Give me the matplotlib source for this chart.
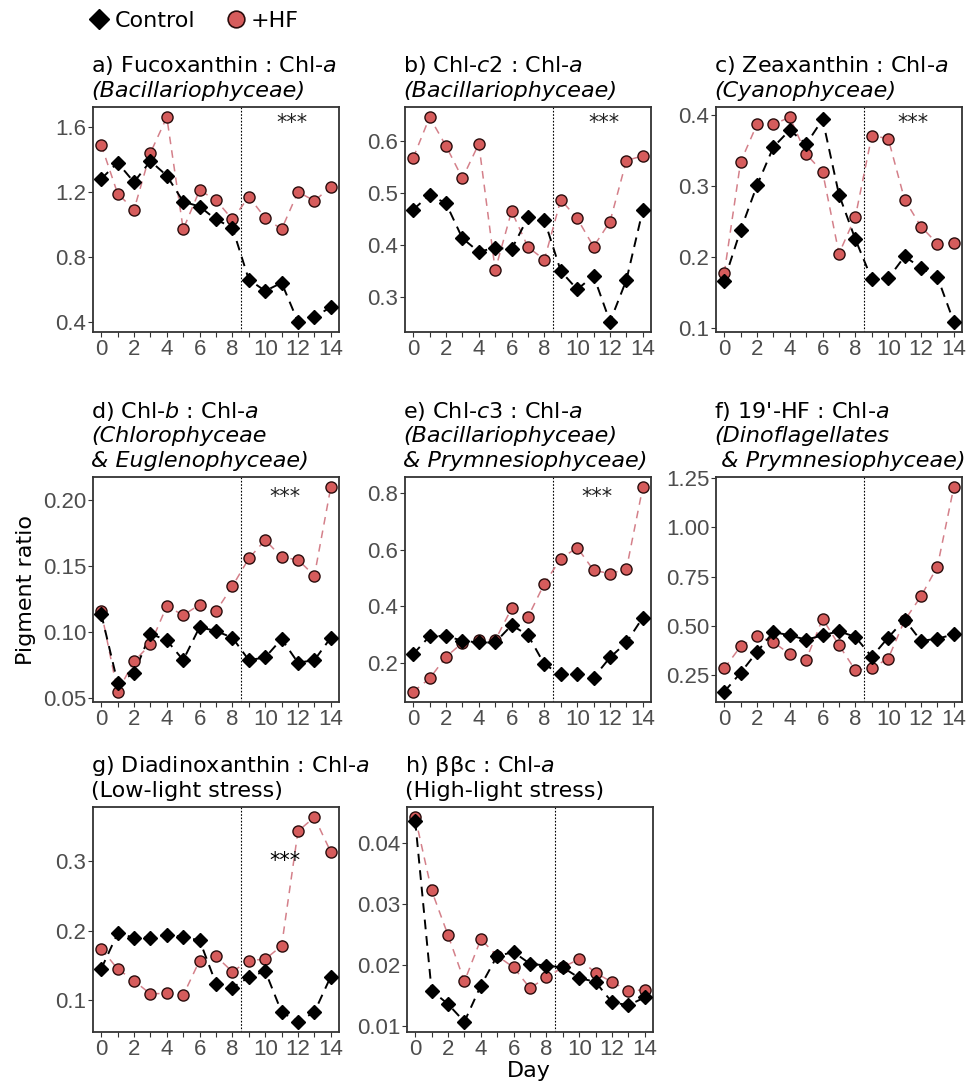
import numpy as np
import matplotlib
matplotlib.use("Agg")
import matplotlib.pyplot as plt
from matplotlib.lines import Line2D
from matplotlib.ticker import FormatStrFormatter

plt.rcParams["mathtext.fontset"] = "dejavusans"

days = list(range(15))

fuco_ctrl = [1.28, 1.38, 1.26, 1.39, 1.30, 1.14, 1.11, 1.03, 0.98, 0.66, 0.59, 0.64, 0.40, 0.43, 0.49]
fuco_hf = [1.49, 1.19, 1.09, 1.44, 1.66, 0.97, 1.21, 1.15, 1.03, 1.17, 1.04, 0.97, 1.20, 1.145, 1.23]

chlc2_ctrl = [0.468, 0.496, 0.480, 0.413, 0.387, 0.395, 0.392, 0.453, 0.448, 0.350, 0.315, 0.341, 0.253, 0.333, 0.467]
chlc2_hf = [0.567, 0.645, 0.590, 0.528, 0.594, 0.352, 0.465, 0.396, 0.372, 0.487, 0.451, 0.397, 0.445, 0.562, 0.571]

zea_ctrl = [0.167, 0.238, 0.301, 0.355, 0.379, 0.359, 0.394, 0.288, 0.225, 0.169, 0.170, 0.201, 0.185, 0.172, 0.109]
zea_hf = [0.177, 0.334, 0.387, 0.387, 0.397, 0.345, 0.320, 0.205, 0.257, 0.371, 0.367, 0.281, 0.243, 0.219, 0.220]

chlb_ctrl = [0.114, 0.062, 0.069, 0.099, 0.094, 0.079, 0.104, 0.101, 0.096, 0.079, 0.081, 0.095, 0.077, 0.079, 0.096]
chlb_hf = [0.116, 0.055, 0.078, 0.091, 0.120, 0.113, 0.121, 0.116, 0.135, 0.156, 0.170, 0.157, 0.155, 0.143, 0.210]

chlc3_ctrl = [0.231, 0.294, 0.295, 0.278, 0.272, 0.272, 0.333, 0.298, 0.195, 0.159, 0.159, 0.148, 0.219, 0.272, 0.360]
chlc3_hf = [0.098, 0.145, 0.221, 0.271, 0.280, 0.280, 0.392, 0.362, 0.480, 0.568, 0.607, 0.527, 0.515, 0.531, 0.820]

hf19_ctrl = [0.166, 0.262, 0.368, 0.469, 0.452, 0.430, 0.452, 0.473, 0.444, 0.343, 0.441, 0.532, 0.424, 0.435, 0.457]
hf19_hf = [0.284, 0.396, 0.447, 0.418, 0.356, 0.329, 0.536, 0.402, 0.275, 0.287, 0.334, 0.528, 0.650, 0.801, 1.203]

ddx_ctrl = [0.145, 0.196, 0.190, 0.190, 0.194, 0.191, 0.186, 0.124, 0.118, 0.133, 0.142, 0.083, 0.069, 0.083, 0.134]
ddx_hf = [0.174, 0.145, 0.128, 0.109, 0.110, 0.107, 0.157, 0.163, 0.141, 0.157, 0.159, 0.178, 0.343, 0.363, 0.313]

bbc_ctrl = [0.0436, 0.0158, 0.0136, 0.0107, 0.0166, 0.0215, 0.0221, 0.0202, 0.0199, 0.0196, 0.0179, 0.0172, 0.0139, 0.0134, 0.0147]
bbc_hf = [0.0442, 0.0322, 0.0249, 0.0173, 0.0242, 0.0215, 0.0196, 0.0162, 0.0180, 0.0196, 0.0210, 0.0187, 0.0172, 0.0158, 0.0159]

# title lines: (text, italic)
titles = {
    "a": [(r"a) Fucoxanthin : Chl-$\mathit{a}$", False), ("(Bacillariophyceae)", True)],
    "b": [(r"b) Chl-$\mathit{c}$2 : Chl-$\mathit{a}$", False), ("(Bacillariophyceae)", True)],
    "c": [(r"c) Zeaxanthin : Chl-$\mathit{a}$", False), ("(Cyanophyceae)", True)],
    "d": [(r"d) Chl-$\mathit{b}$ : Chl-$\mathit{a}$", False), ("(Chlorophyceae", True), ("& Euglenophyceae)", True)],
    "e": [(r"e) Chl-$\mathit{c}$3 : Chl-$\mathit{a}$", False), ("(Bacillariophyceae)", True), ("& Prymnesiophyceae)", True)],
    "f": [(r"f) 19'-HF : Chl-$\mathit{a}$", False), ("(Dinoflagellates", True), (" & Prymnesiophyceae)", True)],
    "g": [(r"g) Diadinoxanthin : Chl-$\mathit{a}$", False), ("(Low-light stress)", False)],
    "h": [(r"h) ββc : Chl-$\mathit{a}$", False), ("(High-light stress)", False)],
}
panel_data = {
    "a": (fuco_ctrl, fuco_hf), "b": (chlc2_ctrl, chlc2_hf), "c": (zea_ctrl, zea_hf),
    "d": (chlb_ctrl, chlb_hf), "e": (chlc3_ctrl, chlc3_hf), "f": (hf19_ctrl, hf19_hf),
    "g": (ddx_ctrl, ddx_hf), "h": (bbc_ctrl, bbc_hf),
}
yticks = {
    "a": [0.4, 0.8, 1.2, 1.6], "b": [0.3, 0.4, 0.5, 0.6], "c": [0.1, 0.2, 0.3, 0.4],
    "d": [0.05, 0.10, 0.15, 0.20], "e": [0.2, 0.4, 0.6, 0.8], "f": [0.25, 0.50, 0.75, 1.00, 1.25],
    "g": [0.1, 0.2, 0.3], "h": [0.01, 0.02, 0.03, 0.04],
}
yfmt = {"a": "%.1f", "b": "%.1f", "c": "%.1f", "d": "%.2f", "e": "%.1f", "f": "%.2f", "g": "%.1f", "h": "%.2f"}
# significance marks (axes fraction)
stars = {"a": (0.81, 0.93), "b": (0.81, 0.93), "c": (0.80, 0.93),
         "d": (0.78, 0.91), "e": (0.78, 0.91), "g": (0.78, 0.76)}

W, H = 969, 1081
fig = plt.figure(figsize=(W / 100, H / 100), dpi=100)

col_left = [93, 405, 716]
row_top = [107, 477, 807]
aw, ah = 246, 225
layout = {"a": (0, 0), "b": (0, 1), "c": (0, 2), "d": (1, 0), "e": (1, 1), "f": (1, 2), "g": (2, 0), "h": (2, 1)}

RED = "#d65c5c"
REDLINE = "#d4808a"
GREY = "#4d4d4d"

for key, (r, c) in layout.items():
    left = col_left[c] + (2 if key == "h" else 0)
    ax = fig.add_axes([left / W, 1 - (row_top[r] + ah) / H, aw / W, ah / H])
    ctrl, hf = panel_data[key]
    ax.plot(days, hf, color=REDLINE, lw=1.1, dashes=(5, 4), zorder=2)
    ax.plot(days, ctrl, color="black", lw=1.4, dashes=(5, 3.5), zorder=3)
    ax.plot(days, hf, ls="none", marker="o", ms=8, mfc=RED, mec="#2a0d0d", mew=1.0, zorder=4)
    ax.plot(days, ctrl, ls="none", marker="D", ms=7.4, mfc="black", mec="black", zorder=5)
    ax.axvline(8.5, color="black", lw=0.8, ls=(0, (1.5, 1.5)), zorder=1)

    lo = min(min(ctrl), min(hf))
    hi = max(max(ctrl), max(hf))
    pad = 0.05 * (hi - lo)
    ax.set_ylim(lo - pad, hi + pad)
    ax.set_xlim(-0.5, 14.5)

    ax.set_xticks(days)
    ax.set_xticklabels([str(d) if d % 2 == 0 else "" for d in days])
    ax.set_yticks(yticks[key])
    ax.yaxis.set_major_formatter(FormatStrFormatter(yfmt[key]))
    ax.tick_params(length=3.5, width=0.8, color="#333333", labelcolor=GREY, labelsize=16, pad=1.2)
    for lab in ax.get_xticklabels() + ax.get_yticklabels():
        lab.set_fontfamily("Liberation Sans")
    for sp in ax.spines.values():
        sp.set_color("#333333")
        sp.set_linewidth(1.3)

    lines = titles[key]
    n = len(lines)
    for i, (txt, ital) in enumerate(lines):
        ax.annotate(txt, xy=(0, 1), xycoords="axes fraction",
                    xytext=(-1.5, 7.5 + (n - 1 - i) * 17.5), textcoords="offset points",
                    ha="left", va="baseline", fontsize=16,
                    style="italic" if ital else "normal")
    if key in stars:
        sx, sy = stars[key]
        ax.text(sx, sy, "***", transform=ax.transAxes, ha="center", va="center",
                fontsize=15, color="#222222" if key != "g" else "black")

fig.text(26 / W, 1 - 590 / H, "Pigment ratio", rotation=90, ha="center", va="center", fontsize=16)
fig.text(529 / W, 1 - 1071 / H, "Day", ha="center", va="center", fontsize=16)

handles = [
    Line2D([], [], ls="none", marker="D", ms=10.5, mfc="black", mec="black"),
    Line2D([], [], ls="none", marker="o", ms=12, mfc=RED, mec="#2a0d0d", mew=1.2),
]
fig.legend(handles, ["Control", "+HF"], loc="center left", bbox_to_anchor=(86 / W, 1 - 21 / H),
           ncol=2, frameon=False, fontsize=16, handletextpad=0.1, columnspacing=1.2,
           handlelength=1.2, borderaxespad=0, borderpad=0)

fig.savefig("out.png", dpi=100)
